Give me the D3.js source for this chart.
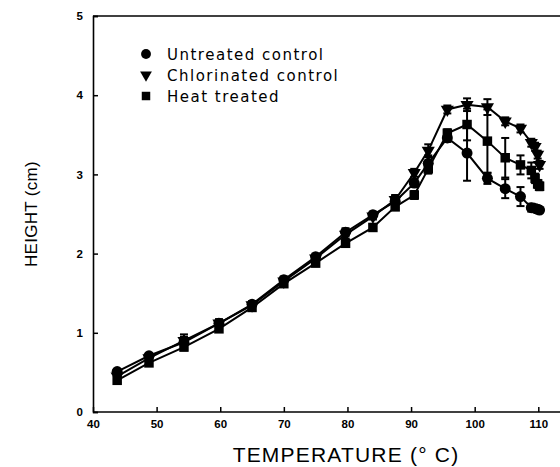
<!DOCTYPE html>
<html><head><meta charset="utf-8">
<script src="https://cdn.jsdelivr.net/npm/d3@7"></script>
<style>body{margin:0;background:#fff}svg{display:block}</style>
</head><body>
<script>
const temps = [43.8,48.8,54.3,59.8,65,70,75,79.7,84,87.5,90.5,92.7,95.7,98.8,102,104.8,107.2,108.9,109.5,109.9,110.2];
const untreated = [0.51,0.71,0.88,1.12,1.36,1.67,1.96,2.27,2.49,2.66,2.89,3.14,3.46,3.27,2.95,2.82,2.72,2.58,2.57,2.56,2.55];
const untreatedErr = [0.03,0.03,0.1,0.05,0.04,0.04,0.04,0.05,0.04,0.08,0.05,0.1,0.05,0.35,0.07,0.12,0.12,0.05,0.03,0.03,0.03];
const chlorinated = [0.45,0.68,0.90,1.12,1.35,1.65,1.94,2.24,2.47,2.68,3.02,3.30,3.82,3.88,3.85,3.67,3.58,3.40,3.35,3.25,3.12];
const chlorinatedErr = [0.03,0.03,0.05,0.05,0.04,0.04,0.04,0.05,0.04,0.05,0.05,0.08,0.05,0.08,0.1,0.05,0.05,0.05,0.05,0.05,0.05];
const heat = [0.40,0.62,0.82,1.05,1.32,1.62,1.88,2.13,2.33,2.59,2.74,3.07,3.52,3.63,3.42,3.21,3.12,3.05,2.95,2.88,2.85];
const heatErr = [0.03,0.03,0.04,0.04,0.04,0.04,0.04,0.04,0.04,0.04,0.05,0.06,0.05,0.2,0.4,0.25,0.12,0.1,0.06,0.05,0.05];
const xTicks = [40,50,60,70,80,90,100,110];
const yTicks = [0,1,2,3,4,5];
const legendLabels = ["Untreated control","Chlorinated control","Heat treated"];

const W=560,H=467;
const svg=d3.select("body").append("svg").attr("width",W).attr("height",H);
const x=d3.scaleLinear().domain([40,110]).range([93,538.3]);
const y=d3.scaleLinear().domain([0,5]).range([412,16]);
const font="'Liberation Sans', Arial, sans-serif";
const font2="'DejaVu Sans', sans-serif";

// frame
svg.append("line").attr("x1",x(40)).attr("x2",W+5).attr("y1",y(5)).attr("y2",y(5)).attr("stroke","#000").attr("stroke-width",1.6);

const xa=svg.append("g").attr("transform",`translate(0,${y(0)})`)
  .call(d3.axisBottom(x).tickValues(xTicks).tickSize(-5).tickPadding(8).tickFormat(d3.format("d")));
xa.select(".domain").attr("d",`M${x(40)},0H${W+5}`);
const ya=svg.append("g").attr("transform",`translate(${x(40)},0)`)
  .call(d3.axisLeft(y).tickValues(yTicks).tickSize(-5).tickPadding(8).tickFormat(d3.format("d")));
[xa,ya].forEach(a=>{
  a.select(".domain").attr("stroke-width",1.6);
  a.selectAll(".tick line").attr("stroke-width",1.5);
  a.selectAll("text").attr("font-family",font).attr("font-weight","bold").attr("font-size",11.5).attr("fill","#000");
});
ya.selectAll(".tick text").attr("dx",-2);

// axis titles
svg.append("text").attr("x",346).attr("y",462).attr("text-anchor","middle")
  .attr("font-family",font).attr("font-size",21).attr("letter-spacing",1.2).text("TEMPERATURE (° C)");
svg.append("text").attr("transform","translate(37,214) rotate(-90)").attr("text-anchor","middle")
  .attr("font-family",font).attr("font-size",17).attr("letter-spacing",0.3).text("HEIGHT (cm)");

const series=[
 {vals:untreated,err:untreatedErr,sym:d3.symbolCircle,size:95},
 {vals:chlorinated,err:chlorinatedErr,sym:d3.symbolTriangle,size:75,rot:180},
 {vals:heat,err:heatErr,sym:d3.symbolSquare,size:90}
];
const line=d3.line().x(d=>x(d[0])).y(d=>y(d[1]));
series.forEach(s=>{
  const pts=temps.map((t,i)=>[t,s.vals[i],s.err[i]]).filter(p=>p[1]!=null);
  svg.append("path").attr("d",line(pts)).attr("fill","none").attr("stroke","#000").attr("stroke-width",2);
  const g=svg.append("g");
  pts.forEach(p=>{
    const cx=x(p[0]),y1=y(p[1]+p[2]),y2=y(p[1]-p[2]);
    g.append("line").attr("x1",cx).attr("x2",cx).attr("y1",y1).attr("y2",y2).attr("stroke","#000").attr("stroke-width",2);
    [y1,y2].forEach(yy=>g.append("line").attr("x1",cx-4).attr("x2",cx+4).attr("y1",yy).attr("y2",yy).attr("stroke","#000").attr("stroke-width",2));
  });
  svg.append("g").selectAll("path").data(pts).join("path")
    .attr("d",d3.symbol().type(s.sym).size(s.size))
    .attr("transform",d=>`translate(${x(d[0])},${y(d[1])})${s.rot?" rotate(180)":""}`)
    .attr("fill","#000");
});

// legend
const lg=svg.append("g");
series.forEach((s,i)=>{
  const ly=54+i*21;
  lg.append("path").attr("d",d3.symbol().type(s.sym).size(s.size*0.8)())
    .attr("transform",`translate(146,${ly})${s.rot?" rotate(180)":""}`).attr("fill","#000");
  lg.append("text").attr("x",167).attr("y",ly+5.5).attr("font-family",font2).attr("font-size",15)
    .attr("letter-spacing",1.5).text(legendLabels[i]);
});
</script>
</body></html>
